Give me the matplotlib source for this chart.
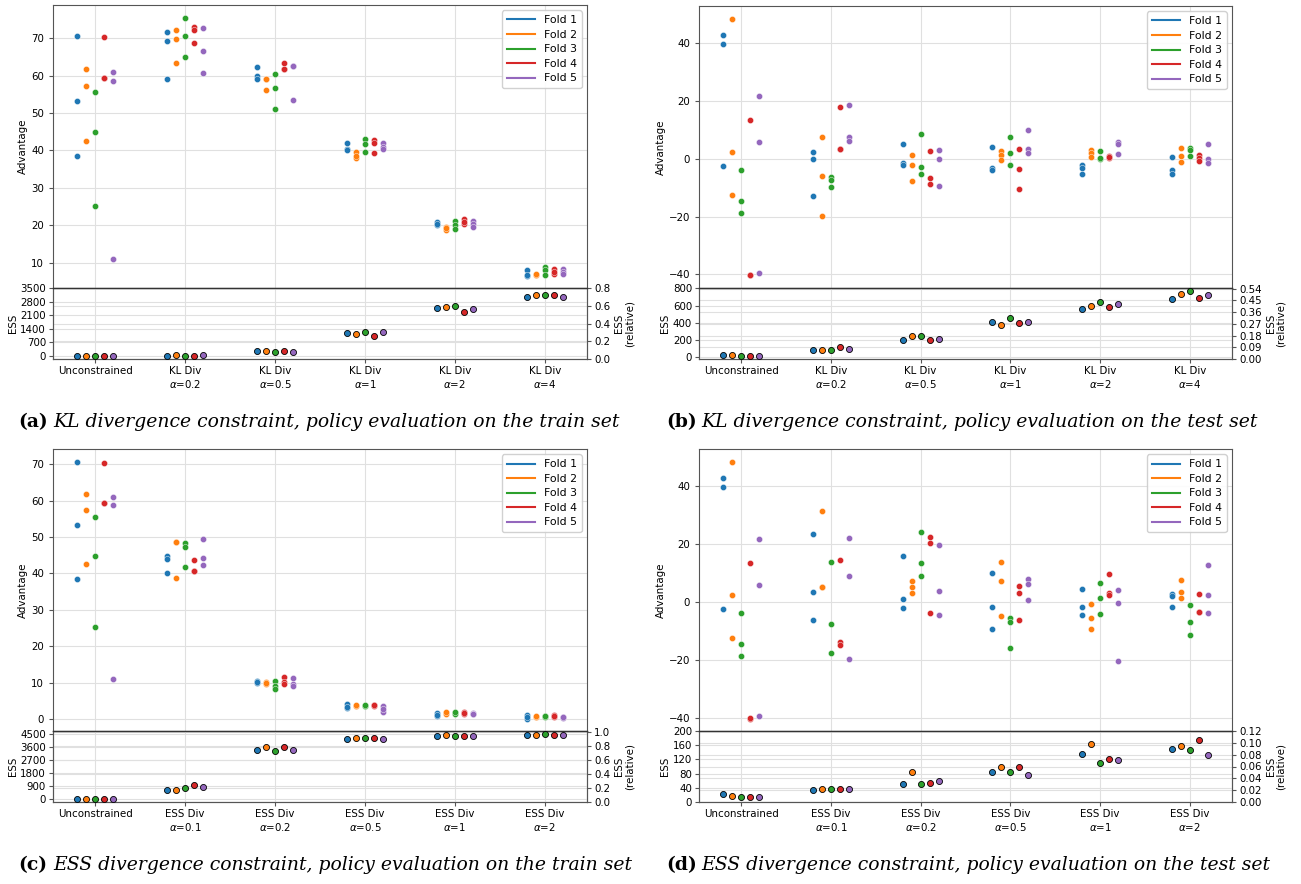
import matplotlib
matplotlib.use("Agg")
import matplotlib.pyplot as plt
import numpy as np

# ---------------- data ----------------
fold_labels = ["Fold 1", "Fold 2", "Fold 3", "Fold 4", "Fold 5"]
fold_colors = ["#1f77b4", "#ff7f0e", "#2ca02c", "#d62728", "#9467bd"]

kl_categories = ["Unconstrained", "KL Div\n$\\alpha$=0.2", "KL Div\n$\\alpha$=0.5",
                 "KL Div\n$\\alpha$=1", "KL Div\n$\\alpha$=2", "KL Div\n$\\alpha$=4"]
ess_categories = ["Unconstrained", "ESS Div\n$\\alpha$=0.1", "ESS Div\n$\\alpha$=0.2",
                  "ESS Div\n$\\alpha$=0.5", "ESS Div\n$\\alpha$=1", "ESS Div\n$\\alpha$=2"]

# Unconstrained advantage, per fold (train / test)
unc_train = [[70.7, 53.2, 38.4], [61.7, 57.3, 42.5], [55.6, 44.9, 25.2],
             [70.4, 59.3, 59.4], [61.1, 58.7, 11.0]]
unc_test = [[42.7, 39.7, -2.5], [48.3, 2.4, -12.6], [-3.7, -14.5, -18.7],
            [13.3, -40.3, -40.2], [21.8, 5.9, -39.4]]

# (a) KL divergence, train set: per fold, per constrained category
adv_a_f1 = [[71.6, 69.3, 59.2], [62.4, 59.8, 59.2], [42.1, 40.3, 40.0], [20.8, 20.1, 20.3], [7.9, 6.5, 6.8]]
adv_a_f2 = [[72.2, 69.9, 63.5], [59.2, 56.2, 59.0], [39.5, 37.9, 38.4], [19.6, 18.6, 19.2], [6.8, 6.7, 6.9]]
adv_a_f3 = [[75.3, 70.6, 65.0], [60.4, 56.7, 51.0], [43.0, 41.7, 39.7], [21.2, 20.1, 18.9], [8.8, 7.9, 6.6]]
adv_a_f4 = [[72.9, 72.1, 68.8], [63.3, 61.8, 61.9], [42.8, 42.1, 39.3], [21.7, 20.4, 20.9], [8.2, 7.0, 7.5]]
adv_a_f5 = [[72.7, 66.6, 60.7], [62.7, 62.5, 53.6], [41.9, 41.0, 40.3], [21.2, 20.4, 19.6], [8.2, 7.6, 7.0]]

# (b) KL divergence, test set
adv_b_f1 = [[2.5, 0.0, -12.8], [5.0, -1.6, -2.3], [4.0, -3.2, -3.9], [-2.3, -3.0, -5.1], [0.6, -4.0, -5.1]]
adv_b_f2 = [[7.6, -6.0, -19.9], [1.2, -2.0, -7.8], [2.7, 1.3, -0.5], [3.2, 2.1, 0.8], [3.9, 0.9, -1.0]]
adv_b_f3 = [[-6.3, -7.3, -9.8], [8.6, -2.8, -5.1], [7.7, 2.1, -2.3], [2.8, 0.1, 0.2], [3.8, 2.9, 1.0]]
adv_b_f4 = [[18.1, 3.5, 3.4], [2.7, -6.8, -8.8], [3.3, -3.5, -10.3], [0.9, 0.3, 0.6], [1.2, 0.3, -0.8]]
adv_b_f5 = [[18.7, 7.4, 6.2], [3.1, 0.0, -9.3], [10.0, 3.5, 2.0], [5.9, 5.0, 1.6], [5.0, -0.1, -1.5]]

# (c) ESS divergence, train set
adv_c_f1 = [[44.8, 44.1, 40.2], [10.4, 9.8, 10.1], [4.0, 2.9, 3.4], [1.6, 0.8, 1.2], [1.0, 0.1, 0.5]]
adv_c_f2 = [[48.7, 48.6, 38.7], [10.2, 9.5, 9.8], [3.7, 3.5, 3.9], [1.6, 1.4, 1.8], [0.6, 0.5, 0.7]]
adv_c_f3 = [[48.5, 47.3, 41.9], [10.5, 9.1, 8.2], [3.7, 3.5, 3.9], [1.6, 1.4, 1.8], [0.7, 0.6, 0.8]]
adv_c_f4 = [[43.6, 40.7, 40.8], [11.5, 10.2, 9.6], [3.8, 3.6, 3.9], [2.0, 1.4, 1.7], [1.0, 0.5, 0.7]]
adv_c_f5 = [[49.5, 44.2, 42.2], [11.4, 9.5, 9.1], [3.5, 1.8, 2.8], [1.7, 1.3, 1.5], [0.5, 0.4, 0.6]]

# (d) ESS divergence, test set
adv_d_f1 = [[23.6, 3.3, -6.2], [15.9, 0.9, -2.1], [10.0, -1.8, -9.3], [4.6, -1.8, -4.5], [2.8, 2.0, -1.6]]
adv_d_f2 = [[31.4, 5.2, 5.1], [7.1, 5.3, 2.9], [13.8, 7.1, -4.8], [-0.6, -5.5, -9.3], [7.5, 3.3, 1.4]]
adv_d_f3 = [[13.6, -7.7, -17.5], [24.1, 13.4, 8.8], [-5.4, -7.1, -16.1], [6.5, 1.2, -4.3], [-1.0, -6.9, -11.6]]
adv_d_f4 = [[14.5, -13.9, -14.8], [22.4, 20.3, -3.9], [5.4, 2.9, -6.1], [9.5, 2.9, 2.4], [2.7, -3.5, -3.4]]
adv_d_f5 = [[22.2, 9.0, -19.7], [19.8, 3.7, -4.5], [7.8, 6.2, 0.7], [4.0, -0.5, -20.3], [12.7, 2.3, -4.0]]

# ESS per category (rows) and fold (columns)
ess_a = [[17, 17, 15, 20, 15], [20, 30, 25, 25, 30], [256, 256, 204, 256, 230],
         [1184, 1132, 1218, 1047, 1218], [2488, 2505, 2556, 2282, 2402], [3020, 3123, 3123, 3140, 3037]]
ess_b = [[27.5, 19.6, 11.8, 15.7, 11.8], [74.5, 82.4, 82.4, 113.7, 86.3], [200, 243, 247, 192, 204],
         [408, 372, 455, 392, 412], [565, 592, 647, 584, 620], [678, 737, 765, 690, 725]]
ess_c = [[10, 10, 10, 10, 10], [643, 643, 758, 941, 804], [3398, 3582, 3283, 3605, 3398],
         [4133, 4179, 4224, 4179, 4110], [4339, 4385, 4339, 4362, 4362], [4431, 4431, 4454, 4431, 4408]]
ess_d = [[23.7, 18.0, 15.2, 15.2, 13.3], [33.2, 37.9, 36.0, 36.0, 36.0], [51.2, 83.4, 50.2, 53.1, 58.8],
         [84.4, 97.6, 84.4, 99.5, 76.8], [135.5, 164.0, 110.9, 122.3, 118.5], [150.7, 158.3, 146.0, 175.4, 131.8]]

captions = [("(a)", "KL divergence constraint, policy evaluation on the train set"),
            ("(b)", "KL divergence constraint, policy evaluation on the test set"),
            ("(c)", "ESS divergence constraint, policy evaluation on the train set"),
            ("(d)", "ESS divergence constraint, policy evaluation on the test set")]

# ---------------- drawing ----------------
W, H = 1301, 884
fig = plt.figure(figsize=(W / 100, H / 100), dpi=100)
plt.rcParams["font.family"] = "DejaVu Sans"
TFS = 7.4
offsets = [-0.2, -0.1, 0.0, 0.1, 0.2]
grid_kw = dict(color="#e0e0e0", linewidth=0.8)
spine_col = "#555555"


def px_rect(x0, x1, ytop, ybot):
    return [x0 / W, 1 - ybot / H, (x1 - x0) / W, (ybot - ytop) / H]


def panel(box, unc, folds, ess, cats, adv_lim, adv_ticks, ess_lim, ess_ticks,
          rel_lim, rel_ticks, rel_fmt):
    x0, x1, ytop, ymid, ybot = box
    ax = fig.add_axes(px_rect(x0, x1, ytop, ymid))
    axe = fig.add_axes(px_rect(x0, x1, ymid, ybot))
    for a in (ax, axe):
        a.set_xlim(-0.47, 5.47)
        a.set_axisbelow(True)
        for s in a.spines.values():
            s.set_color(spine_col)
    ax.set_xticks(range(6))
    ax.tick_params(axis="x", bottom=False, labelbottom=False)
    ax.tick_params(axis="y", labelsize=TFS, length=3, color=spine_col)
    ax.grid(True, **grid_kw)
    for fi in range(5):
        xs, ys = [], []
        for v in unc[fi]:
            xs.append(0 + offsets[fi]); ys.append(v)
        for ci, vals in enumerate(folds[fi]):
            for v in vals:
                xs.append(ci + 1 + offsets[fi]); ys.append(v)
        ax.scatter(xs, ys, s=20, color=fold_colors[fi], edgecolors="white",
                   linewidths=0.3, zorder=3)
    ax.set_ylim(*adv_lim)
    ax.set_yticks(adv_ticks)
    ax.set_ylabel("Advantage", fontsize=TFS, labelpad=2)
    handles = [plt.Line2D([], [], color=c, lw=1.5) for c in fold_colors]
    ax.legend(handles, fold_labels, loc="upper right", fontsize=7.8,
              handlelength=2.6, borderpad=0.45, labelspacing=0.42,
              framealpha=0.9, edgecolor="#cccccc", fancybox=True)

    ess_arr = np.array(ess)
    for fi in range(5):
        axe.scatter(np.arange(6) + offsets[fi], ess_arr[:, fi], s=19,
                    color=fold_colors[fi], edgecolors="black", linewidths=0.6, zorder=3)
    axe.set_ylim(*ess_lim)
    axe.set_yticks(ess_ticks)
    axe.set_xticks(range(6))
    axe.set_xticklabels(cats, fontsize=TFS)
    axe.tick_params(axis="x", length=3, pad=2, color=spine_col)
    axe.tick_params(axis="y", labelsize=TFS, length=3, pad=2, color=spine_col)
    axe.grid(True, **grid_kw)
    axe.set_ylabel("ESS", fontsize=TFS, labelpad=2)
    axe.spines["top"].set_color("#333333")
    axe.spines["top"].set_linewidth(1.0)
    axr = axe.twinx()
    axr.set_ylim(*rel_lim)
    axr.set_yticks(rel_ticks)
    axr.set_yticklabels([rel_fmt.format(t) for t in rel_ticks])
    axr.tick_params(axis="y", labelsize=TFS, length=3, pad=2, color=spine_col)
    axr.grid(True, axis="y", **grid_kw)
    axr.set_axisbelow(True)
    for s in axr.spines.values():
        s.set_color(spine_col)
    axr.set_ylabel("ESS\n(relative)", fontsize=TFS, labelpad=3, linespacing=1.0)
    axe.set_zorder(axr.get_zorder() + 1)
    axe.patch.set_visible(False)


boxes = [(53, 587, 5, 288, 359), (699, 1232, 6, 288, 359),
         (53, 587, 449, 731, 802), (699, 1232, 449, 731, 802)]

panel(boxes[0], unc_train, [adv_a_f1, adv_a_f2, adv_a_f3, adv_a_f4, adv_a_f5], ess_a, kl_categories,
      (3.2, 78.9), [10, 20, 30, 40, 50, 60, 70], (-150, 3500), [0, 700, 1400, 2100, 2800, 3500],
      (0, 0.8), [0.0, 0.2, 0.4, 0.6, 0.8], "{:.1f}")
panel(boxes[1], unc_test, [adv_b_f1, adv_b_f2, adv_b_f3, adv_b_f4, adv_b_f5], ess_b, kl_categories,
      (-44.7, 52.9), [-40, -20, 0, 20, 40], (-25, 805), [0, 200, 400, 600, 800],
      (0, 0.545), [0.0, 0.09, 0.18, 0.27, 0.36, 0.45, 0.54], "{:.2f}")
panel(boxes[2], unc_train, [adv_c_f1, adv_c_f2, adv_c_f3, adv_c_f4, adv_c_f5], ess_c, ess_categories,
      (-3.3, 74.2), [0, 10, 20, 30, 40, 50, 60, 70], (-207, 4680), [0, 900, 1800, 2700, 3600, 4500],
      (0, 1.015), [0.0, 0.2, 0.4, 0.6, 0.8, 1.0], "{:.1f}")
panel(boxes[3], unc_test, [adv_d_f1, adv_d_f2, adv_d_f3, adv_d_f4, adv_d_f5], ess_d, ess_categories,
      (-44.6, 52.8), [-40, -20, 0, 20, 40], (0, 200), [0, 40, 80, 120, 160, 200],
      (0, 0.12), [0.0, 0.02, 0.04, 0.06, 0.08, 0.10, 0.12], "{:.2f}")

cap_pos = [(18, 422), (666, 422), (18, 865), (666, 865)]
for (lab, txt), (cx, cy) in zip(captions, cap_pos):
    fig.text(cx / W, 1 - cy / H, lab, fontsize=13.5, fontweight="bold",
             family="DejaVu Serif", ha="left", va="center")
    fig.text((cx + 35) / W, 1 - cy / H, txt, fontsize=13.5, style="italic",
             family="DejaVu Serif", ha="left", va="center")

fig.savefig("out.png", dpi=100)
